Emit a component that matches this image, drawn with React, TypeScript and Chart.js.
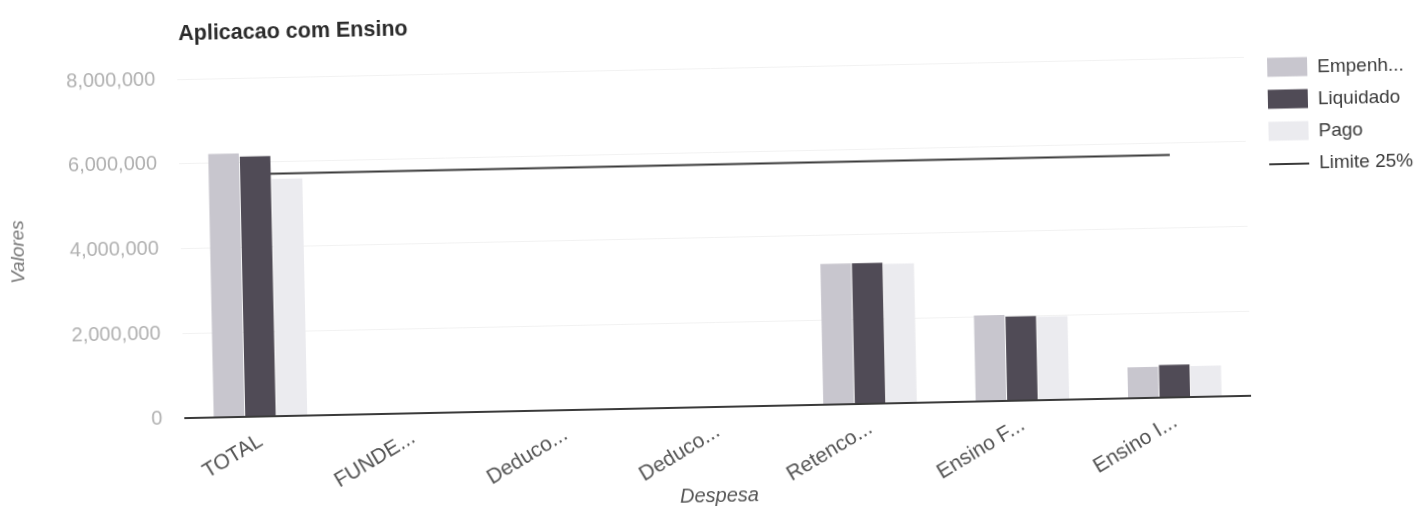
import React, { useEffect, useRef } from "react";
import { Chart, registerables } from "chart.js";

Chart.register(...registerables);

const chartTitle = "Aplicacao com Ensino";
const categories = ["TOTAL", "FUNDE...", "Deduco...", "Deduco...", "Retenco...", "Ensino F...", "Ensino I..."];
const empenhado = [6220000, 0, 0, 0, 3320000, 2030000, 730000];
const liquidado = [6140000, 0, 0, 0, 3320000, 1990000, 770000];
const pago = [5600000, 0, 0, 0, 3290000, 1970000, 730000];
const limite25 = [5720000, 5720000, 5720000, 5720000, 5720000, 5720000, 5720000];
const seriesNames = ["Empenh...", "Liquidado", "Pago", "Limite 25%"];
const seriesColors = ["#c8c6ce", "#504b56", "#ebebef", "#3a3a3a"];
const yTicks = [0, 2000000, 4000000, 6000000, 8000000];
const yAxisTitle = "Valores";
const xAxisTitle = "Despesa";

const FONT = "'Liberation Sans', Arial, Helvetica, sans-serif";

const overlayPlugin = {
  id: "overlay",
  afterDraw(chart: any) {
    const ctx = chart.ctx as CanvasRenderingContext2D;
    const area = chart.chartArea;
    ctx.save();
    // title
    ctx.font = `bold 21.5px ${FONT}`;
    ctx.fillStyle = "#2b2b2b";
    ctx.textAlign = "left";
    ctx.textBaseline = "middle";
    ctx.fillText(chartTitle, area.left + 2, 23);
    // legend
    const boxX = area.right + 23;
    const boxW = 40;
    const boxH = 19;
    const rowStart = 79;
    const rowStep = 32;
    ctx.font = `19px ${FONT}`;
    chart.data.datasets.forEach((ds: any, i: number) => {
      const y = rowStart + i * rowStep;
      if (ds.type === "line") {
        ctx.strokeStyle = ds.borderColor;
        ctx.lineWidth = 2;
        ctx.beginPath();
        ctx.moveTo(boxX, y + 1);
        ctx.lineTo(boxX + boxW, y + 1);
        ctx.stroke();
      } else {
        ctx.fillStyle = ds.backgroundColor;
        ctx.fillRect(boxX, y - boxH / 2, boxW, boxH);
      }
      ctx.fillStyle = "#3a3a3a";
      ctx.fillText(ds.label, boxX + 50, y + 1);
    });
    ctx.restore();
  },
};

export default function App() {
  const canvasRef = useRef<HTMLCanvasElement | null>(null);

  useEffect(() => {
    if (!canvasRef.current) return;
    const barCommon = {
      type: "bar" as const,
      borderWidth: 0,
      categoryPercentage: 0.62,
      barPercentage: 0.97,
      order: 1,
    };
    const chart = new Chart(canvasRef.current, {
      type: "bar",
      data: {
        labels: categories,
        datasets: [
          { ...barCommon, label: seriesNames[0], data: empenhado, backgroundColor: seriesColors[0] },
          { ...barCommon, label: seriesNames[1], data: liquidado, backgroundColor: seriesColors[1] },
          { ...barCommon, label: seriesNames[2], data: pago, backgroundColor: seriesColors[2] },
          {
            type: "line" as const,
            label: seriesNames[3],
            data: limite25,
            borderColor: seriesColors[3],
            backgroundColor: seriesColors[3],
            borderWidth: 2,
            pointRadius: 0,
            fill: false,
            order: 2,
          } as any,
        ],
      },
      options: {
        animation: false,
        responsive: true,
        maintainAspectRatio: false,
        layout: { padding: { top: 68, right: 180, bottom: 0, left: 0 } },
        plugins: {
          legend: { display: false },
          title: { display: false },
          tooltip: { enabled: false },
        },
        scales: {
          x: {
            grid: { display: false },
            border: { display: false },
            ticks: {
              autoSkip: false,
              minRotation: 30,
              maxRotation: 30,
              padding: 4,
              color: "#555555",
              font: { family: FONT, size: 21 },
            },
            title: {
              display: true,
              text: xAxisTitle,
              color: "#555555",
              font: { family: FONT, size: 20, style: "italic" },
              padding: { top: 0, bottom: 2 },
            },
            afterFit: (scale: any) => {
              scale.height = 103;
            },
          },
          y: {
            min: 0,
            max: 8000000,
            border: { display: false },
            grid: {
              drawTicks: false,
              color: (c: any) => (c.tick && c.tick.value === 0 ? "#3a3a3a" : "#f2f2f2"),
              lineWidth: (c: any) => (c.tick && c.tick.value === 0 ? 2 : 1),
            },
            afterBuildTicks: (scale: any) => {
              scale.ticks = yTicks.map((v) => ({ value: v }));
            },
            ticks: {
              padding: 22,
              color: "#b0b0b0",
              font: { family: FONT, size: 20 },
              callback: (v: any) => Number(v).toLocaleString("en-US"),
            },
            title: {
              display: true,
              text: yAxisTitle,
              color: "#777777",
              font: { family: FONT, size: 19, style: "italic" },
              padding: { top: 7, bottom: 0 },
            },
            afterFit: (scale: any) => {
              scale.width = 181;
            },
          },
        },
      },
      plugins: [overlayPlugin],
    });
    return () => chart.destroy();
  }, []);

  return (
    <div
      style={{
        position: "absolute",
        left: 0,
        top: 0,
        width: 1428,
        height: 510,
        background: "#ffffff",
        transform: "rotate(-1.2deg)",
      }}
    >
      <canvas ref={canvasRef} />
    </div>
  );
}
